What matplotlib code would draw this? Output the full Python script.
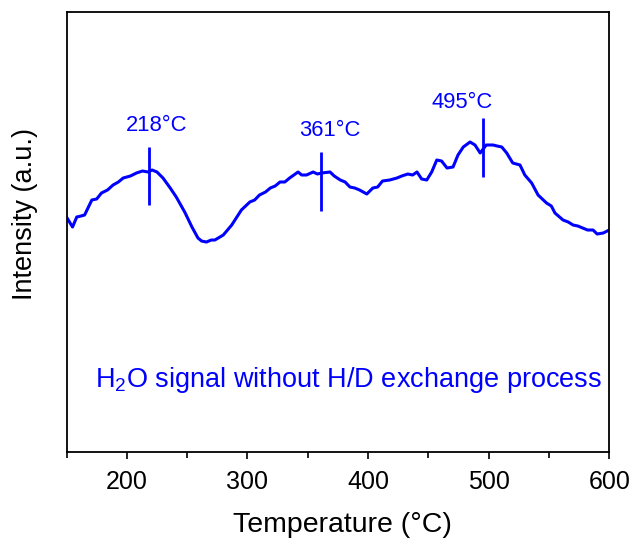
import matplotlib.pyplot as plt
from matplotlib.ticker import MultipleLocator, NullLocator

plt.rcParams['font.family'] = ['Liberation Sans', 'DejaVu Sans']
plt.rcParams['mathtext.default'] = 'regular'

# temperatura (°C) i intensitat (u.a.) llegides de la figura
temp = [150, 155, 158.5, 162, 165, 171, 175, 179, 184, 188.6, 193, 197, 203, 208,
        213, 217.6, 221, 225, 230, 236, 241, 248, 254, 259, 262, 266, 270, 273,
        280, 287, 295, 302, 306, 310, 315, 319, 323, 327, 331, 335, 342, 345, 349,
        354.5, 358, 361.6, 368.5, 372, 377, 381, 385, 389, 393, 399, 404, 408, 412,
        418, 424, 428, 433, 437, 440.6, 444.5, 448.7, 452.8, 457, 461, 465.5, 470.5,
        474.6, 479, 484.6, 488.7, 493, 498, 503.6, 507, 510.9, 515, 520, 526, 530,
        535.7, 541, 548, 552, 555, 561.7, 566, 570, 574, 578, 582, 586.6, 590, 595,
        600]
intensity = [235, 225, 235, 236, 237, 252, 253, 259, 262, 267, 270, 274, 276, 279,
             281, 280, 282, 280, 274, 264, 255, 240, 225, 214, 211, 210, 212, 212,
             217, 227, 242, 250, 252, 257, 260, 264, 266, 270, 270, 274, 280, 277, 277,
             280, 278, 279, 280, 276, 272, 270, 265, 264, 262, 258, 264, 265, 271,
             272, 274, 276, 278, 277, 280, 273, 272, 280, 292, 291, 284, 285,
             297, 305, 310, 307, 299, 307, 307, 306, 305, 299, 289, 287, 277,
             269, 257, 249, 246, 239, 232, 230, 227, 226, 224, 222, 222, 218, 219,
             222]

peaks = [218, 361, 495]
peak_labels = ['218°C', '361°C', '495°C']
peak_lo = [247, 241, 275]
peak_hi = [305, 300, 334]
label_x = [225, 368, 478]
label_y = [326, 321, 349]

fig = plt.figure(figsize=(6.37, 5.44), dpi=100)
ax = fig.add_axes([0.1044, 0.169, 0.852, 0.809])

ax.plot(temp, intensity, color='#0000ff', lw=2.2)
ax.vlines(peaks, peak_lo, peak_hi, color='#0000ff', lw=2)
for x, y, s in zip(label_x, label_y, peak_labels):
    ax.text(x, y, s, color='#0000ff', fontsize=15.8, ha='center', va='center')

ax.text(384, 72, 'H$_2$O signal without H/D exchange process', color='#0000ff',
        fontsize=19.5, ha='center', va='center')

ax.set_xlim(150, 600)
ax.set_ylim(0, 440)
ax.xaxis.set_major_locator(MultipleLocator(100))
ax.xaxis.set_minor_locator(MultipleLocator(50))
ax.yaxis.set_major_locator(NullLocator())
ax.tick_params(axis='x', which='major', direction='out', length=5, width=1.2,
               labelsize=18, pad=8)
ax.tick_params(axis='x', which='minor', direction='out', length=4, width=1.2)
for sp in ax.spines.values():
    sp.set_linewidth(1.3)

ax.set_xlabel('Temperature (°C)', fontsize=20.5)
ax.xaxis.set_label_coords(0.508, -0.166)
ax.xaxis.label.set_va('center')
ax.set_ylabel('Intensity (a.u.)', fontsize=19.5)
ax.yaxis.set_label_coords(-0.052, 0.541)

plt.savefig('out.png')
